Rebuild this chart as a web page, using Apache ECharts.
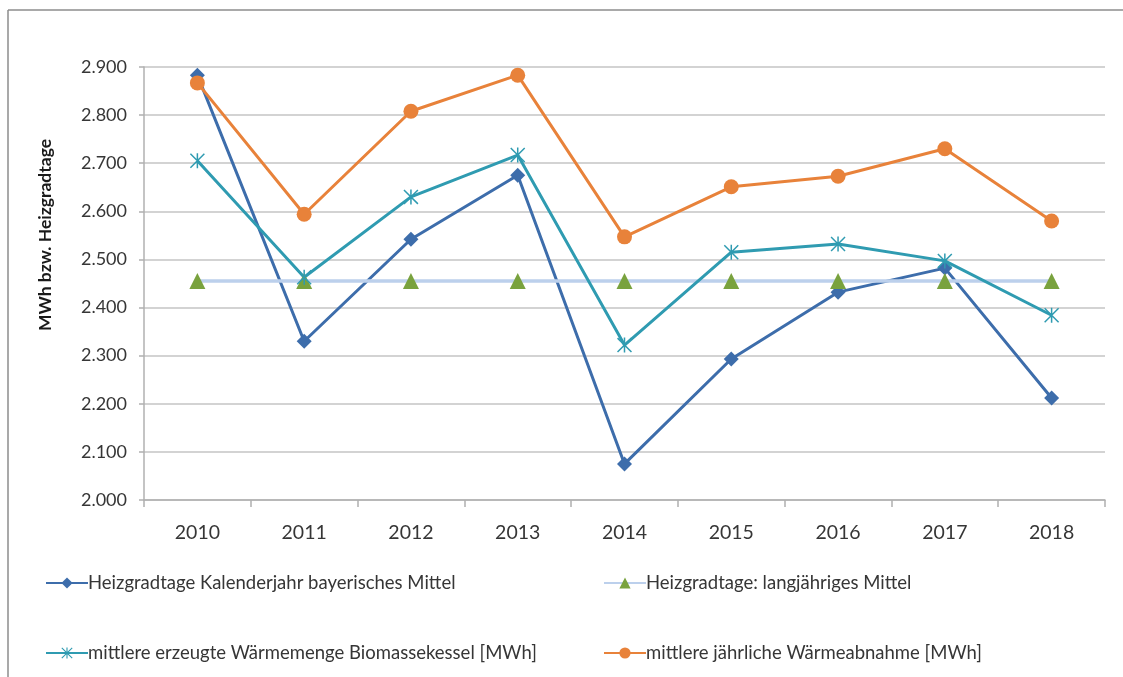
<!DOCTYPE html>
<html>
<head>
<meta charset="utf-8">
<script src="https://cdn.jsdelivr.net/npm/echarts@6/dist/echarts.min.js"></script>
<style>
  html, body { margin: 0; padding: 0; background: #fff; }
  #chart { width: 1123px; height: 677px; }
</style>
</head>
<body>
<div id="chart"></div>
<script>
// Jahre und Messreihen
const years = ['2010', '2011', '2012', '2013', '2014', '2015', '2016', '2017', '2018'];
const heizgradtageBayern = [2883, 2330, 2542, 2675, 2075, 2293, 2432, 2482, 2212];
const heizgradtageMittel = [2455, 2455, 2455, 2455, 2455, 2455, 2455, 2455, 2455];
const waermeErzeugt = [2705, 2463, 2630, 2717, 2322, 2515, 2532, 2497, 2384];
const waermeAbnahme = [2867, 2594, 2808, 2883, 2547, 2651, 2673, 2730, 2580];
const yTicks = { min: 2000, max: 2900, step: 100 };

const FONT = 'Lato, "Noto Sans", sans-serif';
const TXT = '#363636';

// Sternsymbol: senkrechter Strich plus Kreuz
const starPath = 'path://M9 0 L11 0 L11 20 L9 20 Z M0 1.4 L1.4 0 L20 18.6 L18.6 20 Z M18.6 0 L20 1.4 L1.4 20 L0 18.6 Z';

const fmt = v => String(v).replace(/\B(?=(\d{3})+(?!\d))/g, '.');

const chart = echarts.init(document.getElementById('chart'), null, { renderer: 'canvas' });

const names = [
  'Heizgradtage Kalenderjahr bayerisches Mittel',
  'Heizgradtage: langjähriges Mittel',
  'mittlere erzeugte Wärmemenge Biomassekessel [MWh]',
  'mittlere jährliche Wärmeabnahme [MWh]'
];

const legendBase = {
  orient: 'vertical',
  itemWidth: 42,
  itemHeight: 14,
  itemGap: 48,
  top: 567,
  textStyle: { fontFamily: FONT, fontSize: 18.5, color: TXT, padding: [0, 0, 0, -5], lineHeight: 22 },
  selectedMode: false
};

chart.setOption({
  animation: false,
  backgroundColor: '#fff',
  grid: { left: 144, right: 18, top: 67, bottom: 177, containLabel: false },
  legend: [
    Object.assign({}, legendBase, { left: 40, data: [names[0], names[2]] }),
    Object.assign({}, legendBase, { left: 598, data: [names[1], names[3]] })
  ],
  xAxis: {
    type: 'category',
    data: years,
    boundaryGap: true,
    axisLine: { lineStyle: { color: '#b0b0b0', width: 1.5 } },
    axisTick: { show: true, length: 7, lineStyle: { color: '#b0b0b0', width: 1.5 } },
    axisLabel: { fontFamily: FONT, fontSize: 19.5, color: TXT, margin: 23 }
  },
  yAxis: {
    type: 'value',
    min: yTicks.min,
    max: yTicks.max,
    interval: yTicks.step,
    axisLine: { show: true, lineStyle: { color: '#b0b0b0', width: 1.5 } },
    axisTick: { show: true, length: 5, lineStyle: { color: '#b0b0b0', width: 1.5 } },
    axisLabel: { fontFamily: FONT, fontSize: 18, color: TXT, margin: 17, formatter: fmt },
    splitLine: { lineStyle: { color: '#c4c4c4', width: 1.5 } }
  },
  graphic: [
    { type: 'line', shape: { x1: 8, y1: 10, x2: 1123, y2: 10 }, style: { stroke: '#8c8c8c', lineWidth: 1.5 } },
    { type: 'line', shape: { x1: 8, y1: 10, x2: 8, y2: 677 }, style: { stroke: '#8c8c8c', lineWidth: 1.5 } },
    {
      type: 'text',
      x: 45, y: 235,
      rotation: Math.PI / 2,
      style: {
        text: 'MWh bzw. Heizgradtage',
        fontFamily: FONT, fontSize: 17.5, fontWeight: 'bold', fill: '#1a1a1a',
        align: 'center', verticalAlign: 'middle'
      }
    }
  ],
  series: [
    {
      name: names[0], type: 'line', data: heizgradtageBayern,
      symbol: 'diamond', symbolSize: 15,
      lineStyle: { color: '#3d6dab', width: 3 },
      itemStyle: { color: '#3d6dab' }
    },
    {
      name: names[1], type: 'line', data: heizgradtageMittel,
      symbol: 'triangle', symbolSize: 16,
      lineStyle: { color: '#bcd0ec', width: 3.5 },
      itemStyle: { color: '#79a23e' }
    },
    {
      name: names[2], type: 'line', data: waermeErzeugt,
      symbol: starPath, symbolSize: 15, symbolKeepAspect: true,
      lineStyle: { color: '#2f9bb1', width: 3 },
      itemStyle: { color: '#2f9bb1' }
    },
    {
      name: names[3], type: 'line', data: waermeAbnahme,
      symbol: 'circle', symbolSize: 15,
      lineStyle: { color: '#e8823a', width: 3 },
      itemStyle: { color: '#e8823a' }
    }
  ]
});
</script>
</body>
</html>
